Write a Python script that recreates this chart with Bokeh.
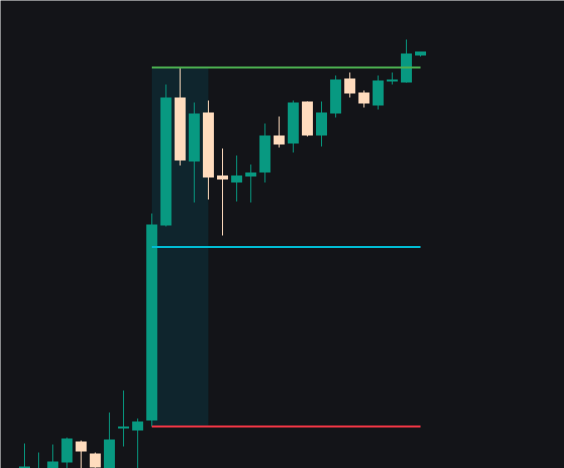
from bokeh.plotting import figure
from bokeh.models import Range1d
from bokeh.embed import file_html
from bokeh.resources import INLINE

# Candle data (index, open, high, low, close)
idx = list(range(29))
opens  = [99.6, 98.6, 99.3, 100.6, 102.7, 101.5, 99.6, 104.1, 103.8, 104.8,
          124.3, 137.1, 130.7, 135.6, 129.3, 128.6, 129.3, 129.6, 133.3, 132.5,
          136.7, 133.3, 135.5, 139.0, 137.6, 136.3, 138.8, 138.6, 141.4]
highs  = [102.5, 101.6, 102.4, 103.1, 102.8, 101.6, 105.6, 107.8, 105.0, 125.5,
          138.4, 140.1, 136.6, 136.8, 132.0, 131.3, 130.4, 134.5, 135.2, 136.8,
          136.7, 136.7, 139.3, 139.6, 137.8, 139.3, 139.6, 142.9, 141.6]
lows   = [99.2, 98.2, 99.0, 99.6, 99.3, 99.4, 99.2, 102.2, 99.0, 104.2,
          124.2, 130.3, 126.6, 126.9, 123.3, 126.7, 126.6, 128.6, 132.1, 131.6,
          133.2, 132.2, 135.1, 137.1, 136.1, 135.9, 138.4, 138.6, 141.2]
closes = [100.2, 99.6, 100.7, 103.0, 101.7, 100.1, 102.9, 104.1, 104.7, 124.4,
          137.1, 130.8, 135.5, 129.1, 128.9, 129.3, 129.6, 133.3, 132.4, 136.6,
          133.3, 135.6, 138.9, 137.5, 136.5, 138.8, 138.8, 141.5, 141.6]

# Range levels
range_start, range_end = 9, 13
line_end = 28
level_high = 140.1
level_low = 104.2
level_mid = (level_high + level_low) / 2

BG = "#131418"
UP = "#089981"
DOWN = "#ffdcbe"

p = figure(width=564, height=468, output_backend="svg", toolbar_location=None,
           x_range=Range1d(-1.70, 38.18), y_range=Range1d(100.0, 146.8),
           min_border=0, background_fill_color=BG, border_fill_color=BG,
           outline_line_color=None)
p.axis.visible = False
p.grid.visible = False

# shaded range box
p.quad(left=[range_start], right=[range_end], bottom=[level_low], top=[level_high],
       fill_color="#0f252d", line_color=None)

colors = [UP if c >= o else DOWN for o, c in zip(opens, closes)]
tops = [max(o, c) for o, c in zip(opens, closes)]
bots = [min(o, c) for o, c in zip(opens, closes)]
tops = [t + 0.1 if t - b < 0.2 else t for t, b in zip(tops, bots)]
bots = [b - 0.1 if t - b < 0.4 else b for t, b in zip(tops, bots)]

p.segment(x0=idx, x1=idx, y0=lows, y1=highs, color=colors, line_width=1)
p.vbar(x=idx, width=0.78, top=tops, bottom=bots, fill_color=colors, line_color=None)

p.segment(x0=[range_start], x1=[line_end], y0=[level_high], y1=[level_high],
          line_color="#4caf50", line_width=2)
p.segment(x0=[range_start], x1=[line_end], y0=[level_mid], y1=[level_mid],
          line_color="#00bcd4", line_width=2)
p.segment(x0=[range_start], x1=[line_end], y0=[level_low], y1=[level_low],
          line_color="#f23645", line_width=2)

open("out.html", "w").write(file_html(p, INLINE))
